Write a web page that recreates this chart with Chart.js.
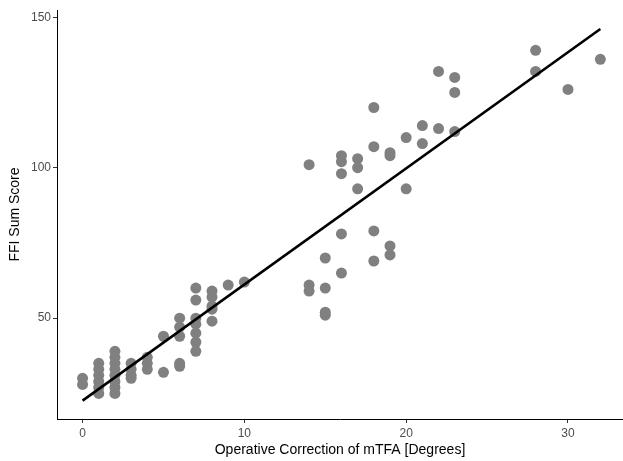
<!DOCTYPE html>
<html>
<head>
<meta charset="utf-8">
<script src="https://cdn.jsdelivr.net/npm/chart.js@4.4.1/dist/chart.umd.min.js"></script>
<style>
  html, body { margin: 0; padding: 0; background: #fff; }
  #wrap { width: 623px; height: 461px; }
</style>
</head>
<body>
<div id="wrap"><canvas id="fitChart" width="623" height="461"></canvas></div>
<script>
// operative correction of mTFA (degrees) and FFI sum score, one entry per patient
const correction = [
  0, 0,
  1, 1, 1, 1, 1, 1,
  2, 2, 2, 2, 2, 2, 2, 2,
  3, 3, 3, 3,
  4, 4, 4,
  5, 5,
  6, 6, 6, 6, 6,
  7, 7, 7, 7, 7, 7, 7,
  8, 8, 8, 8, 8,
  9, 10,
  14, 14, 14,
  15, 15, 15, 15,
  16, 16, 16, 16, 16,
  17, 17, 17,
  18, 18, 18, 18,
  19, 19, 19, 19,
  20, 20,
  21, 21,
  22, 22,
  23, 23, 23,
  28, 28, 30, 32
];
const ffiScore = [
  30, 28,
  35, 33, 31, 29, 27, 25,
  39, 37, 35, 33, 31, 29, 27, 25,
  35, 33, 31, 30,
  37, 35, 33,
  44, 32,
  50, 47, 44, 35, 34,
  60, 56, 50, 48, 45, 42, 39,
  59, 57, 54, 53, 49,
  61, 62,
  101, 61, 59,
  70, 60, 52, 51,
  104, 102, 98, 78, 65,
  103, 100, 93,
  120, 107, 79, 69,
  105, 104, 74, 71,
  110, 93,
  114, 108,
  132, 113,
  130, 125, 112,
  139, 132, 126, 136
];

// fitted regression line at its two ends
const fitX = [0, 32];
const fitY = [22.6, 146.1];

const xTicks = [0, 10, 20, 30];
const yTicks = [50, 100, 150];

const points = correction.map((c, i) => ({ x: c, y: ffiScore[i] }));
const fitLine = fitX.map((x, i) => ({ x: x, y: fitY[i] }));

const fontFamily = "'Liberation Sans', Arial, Helvetica, sans-serif";

new Chart(document.getElementById("fitChart"), {
  type: "scatter",
  data: {
    datasets: [
      {
        data: fitLine,
        showLine: true,
        borderColor: "#000",
        borderWidth: 2.6,
        pointRadius: 0,
        order: 0
      },
      {
        data: points,
        backgroundColor: "#808080",
        borderWidth: 0,
        pointRadius: 5.5,
        order: 1
      }
    ]
  },
  options: {
    responsive: false,
    animation: false,
    devicePixelRatio: 1,
    layout: { autoPadding: false, padding: { top: 10, right: 0, left: 0, bottom: 0 } },
    plugins: {
      legend: { display: false },
      tooltip: { enabled: false }
    },
    scales: {
      x: {
        type: "linear",
        min: -1.58,
        max: 33.4,
        afterBuildTicks: s => { s.ticks = xTicks.map(v => ({ value: v })); },
        afterFit: s => { s.height = 42; },
        border: { display: true, color: "#000", width: 1 },
        grid: { drawOnChartArea: false, drawTicks: true, tickLength: 4, color: "#333", tickColor: "#333" },
        ticks: { color: "#4d4d4d", font: { family: fontFamily, size: 12 }, padding: 3, maxRotation: 0 },
        title: {
          display: true,
          text: "Operative Correction of mTFA [Degrees]",
          color: "#000",
          font: { family: fontFamily, size: 14 },
          padding: { top: 0, bottom: 2 }
        }
      },
      y: {
        type: "linear",
        min: 16.5,
        max: 152.4,
        afterBuildTicks: s => { s.ticks = yTicks.map(v => ({ value: v })); },
        afterFit: s => { s.width = 57; },
        border: { display: true, color: "#000", width: 1 },
        grid: { drawOnChartArea: false, drawTicks: true, tickLength: 4, color: "#333", tickColor: "#333" },
        ticks: { color: "#4d4d4d", font: { family: fontFamily, size: 12 }, padding: 2 },
        title: {
          display: true,
          text: "FFI Sum Score",
          color: "#000",
          font: { family: fontFamily, size: 14 },
          padding: { top: 7, bottom: 0 }
        }
      }
    }
  }
});
</script>
</body>
</html>
